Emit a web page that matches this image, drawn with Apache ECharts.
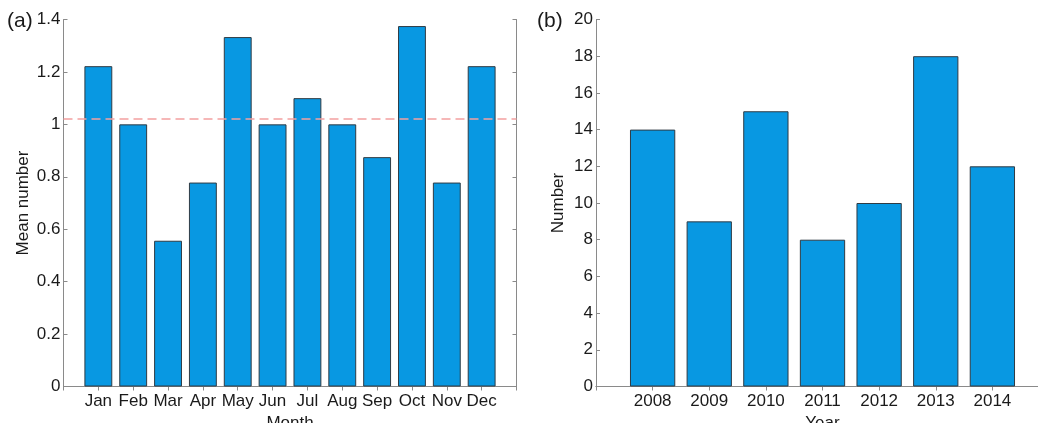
<!DOCTYPE html>
<html>
<head>
<meta charset="utf-8">
<script src="https://cdn.jsdelivr.net/npm/echarts@6/dist/echarts.min.js"></script>
<style>
html,body{margin:0;padding:0;background:#fff;}
#chart{width:1038px;height:423px;}
</style>
</head>
<body>
<div id="chart"></div>
<script>
// ---- data ----
const months = ['Jan','Feb','Mar','Apr','May','Jun','Jul','Aug','Sep','Oct','Nov','Dec'];
const monthMean = [1.222, 1.0, 0.556, 0.778, 1.333, 1.0, 1.1, 1.0, 0.875, 1.375, 0.778, 1.222];
const overallMean = 1.02;
const years = ['2008','2009','2010','2011','2012','2013','2014'];
const yearCount = [14, 9, 15, 8, 10, 18, 12];
const leftTicks = { min: 0, max: 1.4, interval: 0.2 };
const rightTicks = { min: 0, max: 20, interval: 2 };

// pad with an empty slot on each side (bars sit at positions 1..n)
const padCats = c => [''].concat(c, ['']);
const padVals = v => ['-'].concat(v, ['-']);

const FONT = '"Liberation Sans", Arial, Helvetica, sans-serif';
const FS = 17;
const AXIS_COLOR = '#8a8a8a';
const TEXT_COLOR = '#1a1a1a';
const BAR_COLOR = '#0898e2';
const EDGE_COLOR = '#2f3b44';

function xAxes(gridIndex, cats, name) {
  return [{
    type: 'category', gridIndex, data: padCats(cats), boundaryGap: false, position: 'bottom',
    name, nameLocation: 'middle', nameGap: 23,
    nameTextStyle: { fontFamily: FONT, fontSize: FS, color: TEXT_COLOR },
    axisLine: { show: true, lineStyle: { color: AXIS_COLOR, width: 1 } },
    axisTick: { show: true, inside: true, length: 4, interval: 0, lineStyle: { color: AXIS_COLOR } },
    axisLabel: { interval: 0, margin: 6, fontFamily: FONT, fontSize: FS, color: TEXT_COLOR },
    splitLine: { show: false }
  }, {
    type: 'category', gridIndex, data: padCats(cats), boundaryGap: false, position: 'top',
    axisLine: { show: true, lineStyle: { color: AXIS_COLOR, width: 1 } },
    axisTick: { show: true, inside: true, length: 4, interval: 0, lineStyle: { color: AXIS_COLOR } },
    axisLabel: { show: false }, splitLine: { show: false }
  }];
}
function yAxes(gridIndex, t, name, gap) {
  return [{
    type: 'value', gridIndex, min: t.min, max: t.max, interval: t.interval, position: 'left',
    name, nameLocation: 'middle', nameGap: gap,
    nameTextStyle: { fontFamily: FONT, fontSize: FS, color: TEXT_COLOR },
    axisLine: { show: true, lineStyle: { color: AXIS_COLOR, width: 1 } },
    axisTick: { show: true, inside: true, length: 4, lineStyle: { color: AXIS_COLOR } },
    axisLabel: { margin: 3, fontFamily: FONT, fontSize: FS, color: TEXT_COLOR },
    splitLine: { show: false }
  }, {
    type: 'value', gridIndex, min: t.min, max: t.max, interval: t.interval, position: 'right',
    axisLine: { show: true, lineStyle: { color: AXIS_COLOR, width: 1 } },
    axisTick: { show: true, inside: true, length: 4, lineStyle: { color: AXIS_COLOR } },
    axisLabel: { show: false }, splitLine: { show: false }
  }];
}

const chart = echarts.init(document.getElementById('chart'), null, { renderer: 'canvas' });
chart.setOption({
  animation: false,
  backgroundColor: '#fff',
  grid: [
    { left: 63.5, top: 19.5, width: 453, height: 367, containLabel: false, outerBoundsMode: 'none' },
    { left: 596, top: 19.5, width: 453, height: 367, containLabel: false, outerBoundsMode: 'none' }
  ],
  xAxis: xAxes(0, months, 'Month').concat(xAxes(1, years, 'Year')),
  yAxis: yAxes(0, leftTicks, 'Mean number', 32).concat(yAxes(1, rightTicks, 'Number', 29)),
  graphic: [
    { type: 'text', left: 7, top: 11, style: { text: '(a)', fontFamily: FONT, fontSize: 21, fill: TEXT_COLOR } },
    { type: 'text', left: 537, top: 11, style: { text: '(b)', fontFamily: FONT, fontSize: 21, fill: TEXT_COLOR } }
  ],
  series: [
    {
      type: 'bar', xAxisIndex: 0, yAxisIndex: 0, data: padVals(monthMean), barWidth: '80%',
      itemStyle: { color: BAR_COLOR, borderColor: EDGE_COLOR, borderWidth: 1 },
      markLine: {
        silent: true, symbol: ['none', 'none'], label: { show: false },
        lineStyle: { color: '#f4a0a0', type: [9, 5], width: 1.5 },
        data: [{ yAxis: overallMean }]
      }
    },
    {
      type: 'bar', xAxisIndex: 2, yAxisIndex: 2, data: padVals(yearCount), barWidth: '80%',
      itemStyle: { color: BAR_COLOR, borderColor: EDGE_COLOR, borderWidth: 1 }
    }
  ]
});
</script>
</body>
</html>
